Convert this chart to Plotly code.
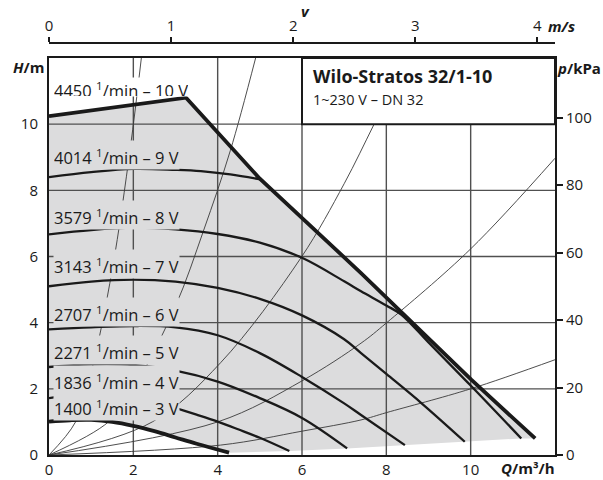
import math
import plotly.graph_objects as go

# ---------------- data ----------------
# pump curves (Q in m3/h, H in m)
q_10v = [0, 3.25, 5.0, 7.4, 10.02, 11.53]
h_10v = [10.24, 10.8, 8.35, 5.5, 2.27, 0.5]

q_9v = [0, 1, 2, 3, 3.6, 4.3, 5.02]
h_9v = [8.4, 8.55, 8.65, 8.62, 8.58, 8.48, 8.33]

q_8v = [0, 1, 2, 3, 4, 5, 6, 7, 7.4, 8, 8.36, 9, 10, 11.2]
h_8v = [6.67, 6.8, 6.87, 6.82, 6.68, 6.42, 5.96, 5.25, 4.95, 4.52, 4.24, 3.4, 2.1, 0.5]

q_7v = [0, 1, 2, 3, 4, 5, 6, 7, 7.4, 8, 8.83, 9.86]
h_7v = [5.1, 5.24, 5.3, 5.24, 5.05, 4.72, 4.22, 3.5, 3.08, 2.45, 1.57, 0.4]

q_6v = [0, 1, 2, 3, 4, 5, 6, 7, 7.4, 8.44]
h_6v = [3.8, 3.86, 3.9, 3.86, 3.62, 3.08, 2.36, 1.56, 1.21, 0.3]

q_5v = [0, 1, 2, 3, 4, 5, 6, 7.07]
h_5v = [2.66, 2.74, 2.72, 2.55, 2.22, 1.72, 1.12, 0.2]

q_4v = [0, 0.5, 1, 1.5, 2, 2.5, 3, 3.5, 4, 4.5, 5, 5.7]
h_4v = [1.72, 1.80, 1.84, 1.83, 1.77, 1.62, 1.42, 1.22, 1.01, 0.77, 0.52, 0.12]

q_3v = [0, 0.5, 1, 1.5, 2, 2.5, 3, 3.5, 4.27]
h_3v = [1.01, 1.05, 1.06, 1.0, 0.88, 0.72, 0.53, 0.34, 0.07]

# lower edge of the operating field (ends of the curves)
q_bottom = [4.27, 5.7, 7.07, 8.44, 9.86, 11.2]
h_bottom = [0.07, 0.12, 0.2, 0.3, 0.4, 0.5]

# system curves (thin lines through the origin)
q_sys_a = [0, 0.63, 1.0, 1.5, 1.93, 2.19]
h_sys_a = [0, 1.0, 2.5, 5.6, 9.3, 12.0]
q_sys_b = [0, 1.41, 2.0, 3.0, 3.67, 4.3, 4.9]
h_sys_b = [0, 1.0, 2.0, 4.5, 6.8, 9.2, 12.0]
q_sys_c = [0, 2.45, 4.07, 5.98, 7.0, 7.71, 8.49]
h_sys_c = [0, 1.0, 2.79, 5.97, 8.2, 10.0, 12.0]
q_sys_d = [0, 4.0, 6.0, 7.4, 8.0, 10.0, 12.0]
h_sys_d = [0, 1.0, 2.24, 3.38, 3.99, 6.23, 8.97]
q_sys_e = [0, 4.07, 6.0, 7.4, 8.0, 10.0, 12.0]
h_sys_e = [0, 0.3, 0.72, 1.06, 1.28, 2.0, 2.88]

# curve labels
speed_rpm = [4450, 4014, 3579, 3143, 2707, 2271, 1836, 1400]
speed_volt = [10, 9, 8, 7, 6, 5, 4, 3]
label_h = [11.06, 8.99, 7.17, 5.67, 4.22, 3.08, 2.19, 1.40]

# axes
q_ticks = [0, 2, 4, 6, 8, 10]
h_ticks = [0, 2, 4, 6, 8, 10]
p_ticks = [0, 20, 40, 60, 80, 100]
v_ticks = [0, 1, 2, 3, 4]
Q_MAX = 12
H_MAX = 12
KPA_PER_M = 9.81
DN_M = 0.032

title_main = "Wilo-Stratos 32/1-10"
title_sub = "1~230 V – DN 32"

# ---------------- figure ----------------
FONT = "Open Sans"
INK = "#1a1a1a"
FILL = "#dcdcdd"
GRID = "#505050"
SYS = "#3a3a3a"

v_max = Q_MAX / 3600.0 / (math.pi * (DN_M / 2) ** 2)

fig = go.Figure()

# operating field
fx = q_10v + q_bottom[::-1] + q_3v[::-1]
fy = h_10v + h_bottom[::-1] + h_3v[::-1]
fig.add_trace(go.Scatter(x=fx, y=fy, fill="toself", fillcolor=FILL,
                         line=dict(width=0), mode="lines", hoverinfo="skip"))

# grid lines (drawn above the field)
gx, gy = [], []
for h in h_ticks[1:]:
    gx += [0, Q_MAX, None]
    gy += [h, h, None]
for q in q_ticks[1:]:
    gx += [q, q, None]
    gy += [0, H_MAX, None]
fig.add_trace(go.Scatter(x=gx, y=gy, mode="lines",
                         line=dict(color=GRID, width=1.4), hoverinfo="skip"))

# system curves
for qs, hs in [(q_sys_a, h_sys_a), (q_sys_b, h_sys_b), (q_sys_c, h_sys_c),
               (q_sys_d, h_sys_d), (q_sys_e, h_sys_e)]:
    fig.add_trace(go.Scatter(x=qs, y=hs, mode="lines",
                             line=dict(color=SYS, width=0.9, shape="spline"),
                             hoverinfo="skip"))

# speed curves
for qs, hs, w in [(q_9v, h_9v, 2.3), (q_8v, h_8v, 2.3), (q_7v, h_7v, 2.3),
                  (q_6v, h_6v, 2.3), (q_5v, h_5v, 2.3), (q_4v, h_4v, 2.3),
                  (q_3v, h_3v, 3.8)]:
    fig.add_trace(go.Scatter(x=qs, y=hs, mode="lines",
                             line=dict(color=INK, width=w, shape="spline"),
                             hoverinfo="skip"))

# max curve
fig.add_trace(go.Scatter(x=q_10v, y=h_10v, mode="lines",
                         line=dict(color=INK, width=3.8), hoverinfo="skip"))

# dummy traces to carry the secondary axes
fig.add_trace(go.Scatter(x=[0, v_max], y=[None, None], xaxis="x2", yaxis="y",
                         mode="lines", hoverinfo="skip"))
fig.add_trace(go.Scatter(x=[None, None], y=[0, H_MAX * KPA_PER_M], xaxis="x", yaxis="y2",
                         mode="lines", hoverinfo="skip"))

# title box
fig.add_shape(type="rect", xref="x", yref="y", x0=6, x1=Q_MAX, y0=10, y1=H_MAX,
              fillcolor="white", line=dict(color=INK, width=2), layer="above")

LABEL_SIZE = 16.5
annotations = []
for i, (rpm, volt, ly) in enumerate(zip(speed_rpm, speed_volt, label_h)):
    txt = f"{rpm} <sup>1</sup>/min – {volt} V"
    if i == 0:
        annotations.append(dict(x=0.1, y=ly, xref="x", yref="y", text=txt,
                                showarrow=False, xanchor="left", yanchor="middle",
                                bgcolor="white", borderpad=0, height=18, valign="top",
                                yshift=2, font=dict(size=LABEL_SIZE, color=INK, family=FONT)))
    else:
        annotations.append(dict(x=0.1, y=ly, xref="x", yref="y", text=txt,
                                showarrow=False, xanchor="left", yanchor="middle",
                                bgcolor=FILL, borderpad=0, height=28, valign="bottom",
                                yshift=3, font=dict(size=LABEL_SIZE, color=INK, family=FONT)))

annotations += [
    dict(x=6.22, y=11.47, xref="x", yref="y", text=f"<b>{title_main}</b>",
         showarrow=False, xanchor="left", yanchor="middle",
         font=dict(size=18, color=INK, family=FONT)),
    dict(x=6.22, y=10.76, xref="x", yref="y", text=title_sub,
         showarrow=False, xanchor="left", yanchor="middle",
         font=dict(size=14.5, color=INK, family=FONT)),
    dict(x=(28 - 49) / 506, y=(455 - 67) / 412, xref="paper", yref="paper",
         text="<b><i>H</i>/m</b>", showarrow=False, xanchor="center", yanchor="middle",
         font=dict(size=15, color=INK, family=FONT)),
    dict(x=(579 - 49) / 506, y=(455 - 68) / 412, xref="paper", yref="paper",
         text="<b><i>p</i>/kPa</b>", showarrow=False, xanchor="center", yanchor="middle",
         font=dict(size=15, color=INK, family=FONT)),
    dict(x=(305 - 49) / 506, y=(455 - 11) / 412, xref="paper", yref="paper",
         text="<b><i>v</i></b>", showarrow=False, xanchor="center", yanchor="middle",
         font=dict(size=15, color=INK, family=FONT)),
    dict(x=(561 - 49) / 506, y=(455 - 26) / 412, xref="paper", yref="paper",
         text="<b><i>m/s</i></b>", showarrow=False, xanchor="center", yanchor="middle",
         font=dict(size=15, color=INK, family=FONT)),
    dict(x=1.003, y=(455 - 468) / 412, xref="paper", yref="paper",
         text="<b><i>Q</i>/m³/h</b>", showarrow=False, xanchor="right", yanchor="middle",
         font=dict(size=15, color=INK, family=FONT)),
]

axis_font = dict(size=15, color=INK, family=FONT)
fig.update_layout(
    width=603, height=480,
    margin=dict(l=49, r=48, t=43, b=25, pad=0),
    paper_bgcolor="white", plot_bgcolor="white",
    showlegend=False,
    font=dict(family=FONT, color=INK),
    annotations=annotations,
    xaxis=dict(range=[0, Q_MAX], domain=[0, 1], tickvals=q_ticks, showgrid=False,
               zeroline=False, showline=True, mirror=True, linecolor=INK, linewidth=2,
               ticks="", tickfont=axis_font, anchor="y", fixedrange=True,
               automargin=False),
    yaxis=dict(range=[0, H_MAX], domain=[0, 397 / 412], tickvals=h_ticks, showgrid=False,
               zeroline=False, showline=True, linecolor=INK, linewidth=2, ticks="",
               tickfont=axis_font, ticklabelstandoff=6, anchor="x", fixedrange=True,
               automargin=False),
    yaxis2=dict(range=[0, H_MAX * KPA_PER_M], overlaying="y", side="right", anchor="x",
                tickvals=p_ticks, showgrid=False, zeroline=False, showline=True,
                linecolor=INK, linewidth=2, ticks="outside", ticklen=6, tickwidth=1.5,
                tickcolor=INK, tickfont=axis_font, fixedrange=True, automargin=False),
    xaxis2=dict(range=[0, v_max], overlaying="x", side="top", anchor="free", position=1,
                tickvals=v_ticks, showgrid=False, zeroline=False, showline=True,
                linecolor=INK, linewidth=2, ticks="outside", ticklen=5, tickwidth=2,
                tickcolor=INK, tickfont=axis_font, fixedrange=True,
                automargin=False),
)

fig.write_html("out.html", config={"displayModeBar": False},
               post_script="document.body.style.margin='0px';document.body.style.overflow='hidden';")
